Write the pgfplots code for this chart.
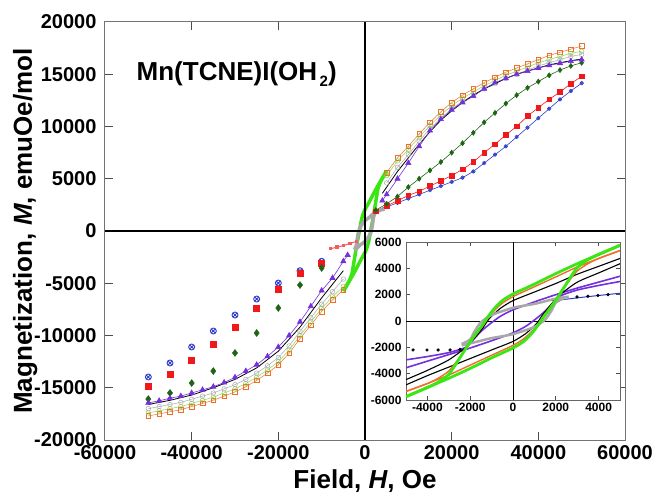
\documentclass[border=0pt]{standalone}
\usepackage{pgfplots}
\pgfplotsset{compat=1.18}
\usepackage{fontspec}
\setmainfont{Liberation Sans}
\definecolor{cOr}{HTML}{F06E28}
\definecolor{cLg}{HTML}{8CD250}
\definecolor{cGr}{HTML}{A8A8A8}
\definecolor{cPu}{HTML}{7430DC}
\definecolor{cDg}{HTML}{1E6414}
\definecolor{cRd}{HTML}{F01818}
\definecolor{cBl}{HTML}{2E3CC8}
\definecolor{cBg}{HTML}{3CE614}
\begin{document}
\begin{tikzpicture}
\useasboundingbox (0pt,0pt) rectangle (655pt,493pt);
\begin{axis}[at={(105pt,53pt)},anchor=south west, scale only axis, width=520pt, height=418pt,
 xmin=-60000,xmax=60000,ymin=-20000,ymax=20000,
 xtick={-60000,-40000,...,60000}, ytick={-20000,-15000,...,20000},
 scaled ticks=false,
 /pgf/number format/1000 sep={}, /pgf/number format/assume math mode=true,
 tick label style={font=\fontsize{20}{20}\selectfont\bfseries},
 yticklabel style={xshift=-5pt},
 xticklabel style={yshift=-2pt},
 tick align=inside, major tick length=8pt,
 axis line style={draw=black!55, line width=1pt}, tick style={black!70, line width=1pt},
 xlabel={Field, \textit{H}, Oe}, ylabel={Magnetization, \textit{M}, emuOe/mol},
 label style={font=\fontsize{26}{26}\selectfont\bfseries},
 xlabel style={at={(axis description cs:0.5,-0.1150)},anchor=base},
 ylabel style={at={(axis description cs:-0.1404,0.5)},anchor=base},
]
% blue
\addplot[cBl, line width=0.6pt, mark=otimes, mark size=1.8pt] coordinates {(2500,1900) (5000,2300) (7500,2700) (10000,3100) (12500,3500) (15000,3900) (17500,4300) (20000,4700) (22500,5100) (25000,5700) (27500,6500) (30000,7300) (32500,8100) (35000,9000) (37500,9900) (40000,10800) (42500,11700) (45000,12600) (47500,13400) (50000,14150)};
\addplot[cBl, only marks, mark=otimes, mark size=3pt, line width=0.9pt] coordinates {(-50000,-13970) (-45000,-12630) (-40000,-11100) (-35000,-9570) (-30000,-8040) (-25000,-6510) (-20000,-4980) (-15000,-3800) (-10000,-2900)};
% red
\addplot[cRd, line width=0.6pt, mark=square*, mark size=2.3pt] coordinates {(2500,1900) (5000,2400) (7500,2900) (10000,3400) (12500,3800) (15000,4300) (17500,4800) (20000,5300) (22500,5900) (25000,6600) (27500,7500) (30000,8300) (32500,9200) (35000,10000) (37500,11000) (40000,11800) (42500,12600) (45000,13300) (47500,14100) (50000,14800)};
\addplot[cRd, only marks, mark=square*, mark size=3pt] coordinates {(-50000,-14830) (-45000,-13680) (-40000,-12340) (-35000,-10810) (-30000,-9190) (-25000,-7370) (-20000,-5550) (-15000,-4020) (-10000,-3060)};
\addplot[cRd!70, line width=1pt, mark=square*, mark size=1.2pt] coordinates {(-8000,-1700) (-6500,-1550) (-5000,-1400) (-3500,-1200) (-2000,-1000)};
% dark green
\addplot[cDg, line width=0.6pt, mark=diamond*, mark size=2.5pt] coordinates {(2500,2000) (5000,2600) (7500,3300) (10000,4200) (12500,5000) (15000,5800) (17500,6600) (20000,7500) (22500,8400) (25000,9400) (27500,10400) (30000,11300) (32500,12200) (35000,13000) (37500,13700) (40000,14300) (42500,14900) (45000,15400) (47500,15800) (50000,16100)};
\addplot[cDg, only marks, mark=diamond*, mark size=3.5pt] coordinates {(-50000,-16080) (-45000,-15500) (-40000,-14550) (-35000,-13400) (-30000,-11670) (-25000,-9760) (-20000,-7370) (-15000,-5170) (-10000,-3540)};
% orange
\addplot[cOr, line width=0.5pt, mark=square, mark size=2.3pt] coordinates {(-50000,-17700) (-47500,-17500) (-45000,-17300) (-42500,-17100) (-40000,-16800) (-37500,-16500) (-35000,-16200) (-32500,-15800) (-30000,-15400) (-27500,-14900) (-25000,-14300) (-22500,-13600) (-20000,-12800) (-17500,-11700) (-15000,-10300) (-12500,-9000) (-10000,-7700) (-7500,-6600) (-5000,-5600)};
\addplot[cOr, line width=0.5pt, mark=square, mark size=2.3pt] coordinates {(5000,5600) (7500,7000) (10000,8100) (12500,9300) (15000,10400) (17500,11400) (20000,12300) (22500,13000) (25000,13600) (27500,14200) (30000,14700) (32500,15200) (35000,15600) (37500,16000) (40000,16400) (42500,16800) (45000,17100) (47500,17400) (50000,17700)};
% light green
\addplot[cLg, line width=0.5pt, mark=o, mark size=2.3pt] coordinates {(-50000,-17400) (-47500,-17200) (-45000,-17000) (-42500,-16800) (-40000,-16500) (-37500,-16200) (-35000,-15900) (-32500,-15500) (-30000,-15100) (-27500,-14600) (-25000,-14000) (-22500,-13300) (-20000,-12500) (-17500,-11400) (-15000,-10000) (-12500,-8700) (-10000,-7400) (-7500,-6300) (-5000,-5300)};
\addplot[cLg, line width=0.5pt, mark=o, mark size=2.3pt] coordinates {(5000,5300) (7500,6700) (10000,7800) (12500,9000) (15000,10100) (17500,11100) (20000,12000) (22500,12700) (25000,13300) (27500,13900) (30000,14400) (32500,14900) (35000,15300) (37500,15700) (40000,16100) (42500,16400) (45000,16700) (47500,17000) (50000,17200)};
% gray circles
\addplot[cGr, line width=0.5pt, mark=o, mark size=2.3pt] coordinates {(-50000,-17000) (-47500,-16800) (-45000,-16600) (-42500,-16400) (-40000,-16100) (-37500,-15800) (-35000,-15500) (-32500,-15100) (-30000,-14700) (-27500,-14200) (-25000,-13600) (-22500,-12900) (-20000,-12100) (-17500,-11000) (-15000,-9600) (-12500,-8300) (-10000,-7000) (-7500,-5800) (-5000,-4600)};
\addplot[cGr, line width=0.5pt, mark=o, mark size=2.3pt] coordinates {(5000,4600) (7500,6100) (10000,7300) (12500,8600) (15000,9800) (17500,10800) (20000,11700) (22500,12400) (25000,13000) (27500,13600) (30000,14100) (32500,14600) (35000,15000) (37500,15400) (40000,15800) (42500,16100) (45000,16400) (47500,16700) (50000,16900)};
% black
\addplot[black, line width=0.8pt] coordinates {(-50000,-16600) (-45000,-16200) (-40000,-15700) (-35000,-15000) (-30000,-14200) (-25000,-13100) (-20000,-11500) (-15000,-9200) (-10000,-6400) (-7500,-5100) (-5000,-3800)};
\addplot[black, line width=0.8pt] coordinates {(4000,3600) (5000,4200) (7500,5700) (10000,7000) (12500,8300) (15000,9500) (17500,10600) (20000,11500) (22500,12300) (25000,13000) (27500,13600) (30000,14100) (32500,14600) (35000,15000) (37500,15300) (40000,15600) (42500,15900) (45000,16100) (47500,16300) (50000,16450)};
% purple
\addplot[cPu, line width=0.6pt, mark=triangle*, mark size=3pt] coordinates {(-50000,-16450) (-47500,-16250) (-45000,-16000) (-42500,-15800) (-40000,-15500) (-37500,-15200) (-35000,-14900) (-32500,-14500) (-30000,-14000) (-27500,-13400) (-25000,-12800) (-22500,-12000) (-20000,-11100) (-17500,-10000) (-15000,-8700) (-12500,-7200) (-10000,-5700) (-7500,-4500) (-5000,-2900) (-4000,-2300)};
\addplot[cPu, line width=0.6pt, mark=triangle*, mark size=3pt] coordinates {(4000,2900) (5000,3500) (7500,5000) (10000,6500) (12500,8100) (15000,9600) (17500,10700) (20000,11600) (22500,12300) (25000,12900) (27500,13600) (30000,14200) (32500,14600) (35000,15000) (37500,15300) (40000,15600) (42500,15850) (45000,16050) (47500,16250) (50000,16400)};
% bright green loop near origin
\addplot[cBg, line width=3.5pt, smooth, tension=0.4] coordinates {(5000,5750) (4000,5050) (3000,4350) (2000,3600) (1000,2800) (0,2050) (-500,1550) (-900,900) (-1200,250) (-1450,-350) (-1800,-1100) (-2150,-1950) (-2600,-3100) (-3000,-4050) (-3500,-4650) (-4000,-5050) (-5000,-5750)};
\addplot[cBg, line width=3.5pt, smooth, tension=0.4] coordinates {(-5000,-5750) (-4000,-5050) (-3000,-4350) (-2000,-3600) (-1000,-2800) (0,-2050) (500,-1550) (900,-900) (1200,-250) (1450,350) (1800,1100) (2150,1950) (2600,3100) (3000,4050) (3500,4650) (4000,5050) (5000,5750)};
% gray loop near origin
\addplot[cGr, line width=3.5pt, smooth, tension=0.4] coordinates {(4500,2100) (3500,2000) (2600,1850) (2000,1700) (1500,1500) (1000,1300) (0,1000) (-1000,450) (-1500,-100) (-1800,-800) (-2000,-1400) (-2400,-1750)};
\addplot[cGr, line width=3.5pt, smooth, tension=0.4] coordinates {(-2400,-1850) (-2000,-1700) (-1500,-1500) (-1000,-1300) (0,-1000) (1000,-450) (1500,100) (1800,800) (2000,1400) (2400,1750) (3000,1900)};
\draw[line width=2.5pt] (axis cs:-60000,0) -- (axis cs:60000,0);
\draw[line width=2.5pt] (axis cs:0,-20000) -- (axis cs:0,20000);
\node[anchor=base west, font=\fontsize{26}{26}\selectfont\bfseries] at (axis cs:-53500,14400) {Mn(TCNE)I(OH\raisebox{-6pt}{\fontsize{15}{15}\selectfont\,2})};
\end{axis}
% inset
\begin{axis}[at={(406pt,93pt)},anchor=south west, scale only axis, width=214pt, height=158pt,
 xmin=-5000,xmax=5000,ymin=-6000,ymax=6000,
 xtick={-4000,-2000,...,4000}, ytick={-6000,-4000,...,6000},
 scaled ticks=false,
 /pgf/number format/1000 sep={}, /pgf/number format/assume math mode=true,
 tick label style={font=\fontsize{12}{12}\selectfont\bfseries},
 yticklabel style={xshift=-1pt},
 tick align=inside, major tick length=4pt,
 axis background/.style={fill=white},
 axis line style={draw=black!60, line width=0.8pt}, tick style={black!70, line width=0.8pt},
]
\draw[line width=0.8pt] (axis cs:-5000,0) -- (axis cs:5000,0);
\draw[line width=0.8pt] (axis cs:0,-6000) -- (axis cs:0,6000);
\addplot[cBl, line width=1pt] coordinates {(1800,1550) (2500,1660) (3500,1850) (5000,2110)};
\addplot[black, only marks, mark=*, mark size=1.4pt] coordinates {(-4670,-2200) (-4020,-2200) (-3500,-2200) (-2940,-2200) (-2480,-2150) (2990,1830) (3500,1880) (3970,1940) (4440,2000)};
% purple
\addplot[cPu, line width=1.6pt, smooth, tension=0.4] coordinates {(5000,3400) (4000,2950) (3000,2500) (2000,2000) (1000,1450) (0,850) (-600,350) (-1100,-250) (-1500,-800) (-1900,-1500) (-2200,-2000) (-3000,-2400) (-4000,-2700) (-5000,-2950)};
\addplot[cPu, line width=1.6pt, smooth, tension=0.4] coordinates {(-5000,-3550) (-4000,-3050) (-3000,-2550) (-2000,-2050) (-1000,-1500) (0,-900) (600,-400) (1100,200) (1500,750) (1900,1400) (2200,1900) (3000,2350) (4000,2700) (5000,3000)};
% black
\addplot[black, line width=1.1pt, smooth, tension=0.4] coordinates {(5000,4750) (4000,4150) (3000,3550) (2000,2850) (1000,2200) (0,1550) (-600,950) (-1100,200) (-1400,-500) (-1800,-1300) (-2200,-2000) (-3000,-2950) (-4000,-3750) (-5000,-4450)};
\addplot[black, line width=1.1pt, smooth, tension=0.4] coordinates {(-5000,-4850) (-4000,-4150) (-3000,-3500) (-2000,-2850) (-1000,-2200) (0,-1550) (600,-950) (1100,-200) (1400,500) (1800,1300) (2200,2000) (3000,2950) (4000,3650) (5000,4350)};
% orange
\addplot[cOr, line width=1.4pt, smooth, tension=0.4] coordinates {(5000,5350) (4000,4750) (3000,4100) (2000,3350) (1000,2600) (0,1850) (-500,1350) (-900,750) (-1200,150) (-1450,-450) (-1800,-1200) (-2150,-2000) (-2600,-3000) (-3000,-3800) (-3500,-4350) (-4000,-4750) (-5000,-5350)};
\addplot[cOr, line width=1.4pt, smooth, tension=0.4] coordinates {(-5000,-5350) (-4000,-4750) (-3000,-4100) (-2000,-3350) (-1000,-2600) (0,-1850) (500,-1350) (900,-750) (1200,-150) (1450,450) (1800,1200) (2150,2000) (2600,3000) (3000,3800) (3500,4350) (4000,4750) (5000,5350)};
% gray
\addplot[cGr, line width=2.5pt, smooth, tension=0.4] coordinates {(2600,1850) (2000,1700) (1500,1500) (1000,1300) (0,1000) (-1000,450) (-1500,-100) (-1800,-800) (-2000,-1400) (-2400,-1750)};
\addplot[cGr, line width=2.5pt, smooth, tension=0.4] coordinates {(-2400,-1850) (-2000,-1700) (-1500,-1500) (-1000,-1300) (0,-1000) (1000,-450) (1500,100) (1800,800) (2000,1400) (2400,1750)};
% green
\addplot[cBg, line width=2.8pt, smooth, tension=0.4] coordinates {(5000,5750) (4000,5050) (3000,4350) (2000,3600) (1000,2800) (0,2050) (-500,1550) (-900,900) (-1200,250) (-1450,-350) (-1800,-1100) (-2150,-1950) (-2600,-3100) (-3000,-4050) (-3500,-4650) (-4000,-5050) (-5000,-5750)};
\addplot[cBg, line width=2.8pt, smooth, tension=0.4] coordinates {(-5000,-5750) (-4000,-5050) (-3000,-4350) (-2000,-3600) (-1000,-2800) (0,-2050) (500,-1550) (900,-900) (1200,-250) (1450,350) (1800,1100) (2150,1950) (2600,3100) (3000,4050) (3500,4650) (4000,5050) (5000,5750)};
\end{axis}
\end{tikzpicture}
\end{document}
